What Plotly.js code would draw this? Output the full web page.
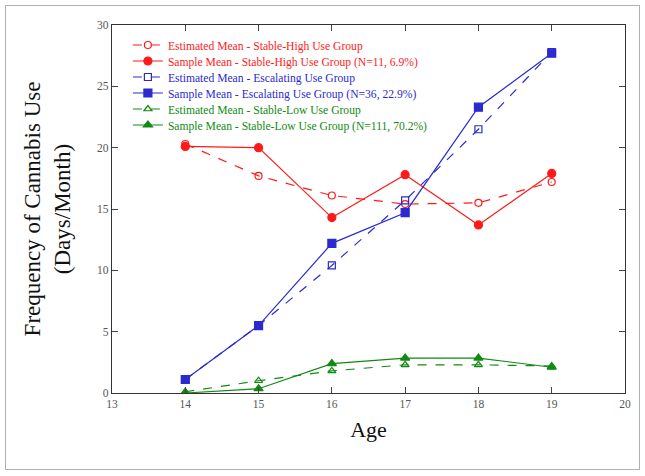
<!DOCTYPE html>
<html><head><meta charset="utf-8">
<script src="https://cdn.plot.ly/plotly-3.0.1.min.js"></script>
<style>body{margin:0;background:#fff}#wrap{position:relative;width:645px;height:476px}#chart{width:645px;height:476px}#frame{position:absolute;left:5px;top:5px;width:633px;height:463px;border:1px solid #b0b0b0;pointer-events:none}</style>
</head><body><div id="wrap"><div id="chart"></div><div id="frame"></div></div>
<script>
const ages = [14, 15, 16, 17, 18, 19];
const highEst = [20.3, 17.7, 16.1, 15.4, 15.5, 17.2];
const highSample = [20.1, 20.0, 14.3, 17.8, 13.7, 17.9];
const escEst = [1.1, 5.5, 10.4, 15.7, 21.5, 27.8];
const escSample = [1.1, 5.5, 12.2, 14.7, 23.3, 27.7];
const lowEst = [0.1, 1.0, 1.8, 2.3, 2.3, 2.2];
const lowSample = [0.0, 0.35, 2.4, 2.85, 2.85, 2.1];
const names = [
  'Estimated Mean - Stable-High Use Group',
  'Sample Mean - Stable-High Use Group (N=11, 6.9%)',
  'Estimated Mean - Escalating Use Group',
  'Sample Mean - Escalating Use Group (N=36, 22.9%)',
  'Estimated Mean - Stable-Low Use Group',
  'Sample Mean - Stable-Low Use Group (N=111, 70.2%)'
];
const RED = '#ff1a1a', BLUE = '#2a2ad0', GREEN = '#118a11';
function tr(y, name, color, dash, symbol, size) {
  return {x: ages, y: y, name: name, type: 'scatter', mode: 'lines+markers',
    line: {color: color, width: 1.2, dash: dash},
    marker: {color: color, symbol: symbol, size: size, line: {color: color, width: 1.2}}};
}
const data = [
  tr(highEst, names[0], RED, 'dash', 'circle-open', 7),
  tr(highSample, names[1], RED, 'solid', 'circle', 8),
  tr(escEst, names[2], BLUE, 'dash', 'square-open', 7),
  tr(escSample, names[3], BLUE, 'solid', 'square', 8),
  tr(lowEst, names[4], GREEN, 'dash', 'triangle-up-open', 7),
  tr(lowSample, names[5], GREEN, 'solid', 'triangle-up', 8)
];
const serif = 'Liberation Serif, Times New Roman, serif';
const layout = {
  width: 645, height: 476,
  margin: {l: 112, r: 20, t: 25, b: 83},
  paper_bgcolor: '#fff', plot_bgcolor: '#fff',
  showlegend: true,
  legend: {x: 0.031, y: 0.985, xanchor: 'left', yanchor: 'top', bgcolor: 'rgba(0,0,0,0)',
    font: {family: serif, size: 11.6}, tracegroupgap: 0},
  xaxis: {range: [13, 20], tickvals: [13,14,15,16,17,18,19,20], ticks: 'inside', ticklen: 6,
    showline: true, linecolor: '#333', linewidth: 1.2, mirror: 'ticks', zeroline: false, showgrid: false,
    tickfont: {family: serif, size: 11.5, color: '#555'},
    title: {text: 'Age', font: {family: serif, size: 22, color: '#111'}, standoff: 12}},
  yaxis: {range: [0, 30], tickvals: [0,5,10,15,20,25,30], ticks: 'inside', ticklen: 6,
    showline: true, linecolor: '#333', linewidth: 1.2, mirror: 'ticks', zeroline: false, showgrid: false,
    tickfont: {family: serif, size: 11.5, color: '#555'},
    title: {text: 'Frequency of Cannabis Use<br>(Days/Month)', font: {family: serif, size: 23, color: '#111'}, standoff: 20}}
};
Plotly.newPlot('chart', data, layout, {displayModeBar: false, staticPlot: true}).then(function(){
  const colors = [RED, RED, BLUE, BLUE, GREEN, GREEN];
  const groups = document.querySelectorAll('.legend .traces');
  let y0 = null;
  groups.forEach(function(g, i){
    const t = g.querySelector('text'); if (t) t.style.fill = colors[i];
    const m = /translate\(([-\d.]+),\s*([-\d.]+)\)/.exec(g.getAttribute('transform') || '');
    if (m) {
      if (y0 === null) y0 = parseFloat(m[2]);
      g.setAttribute('transform', 'translate(' + m[1] + ',' + (y0 + i * 16) + ')');
    }
  });
});
</script></body></html>
